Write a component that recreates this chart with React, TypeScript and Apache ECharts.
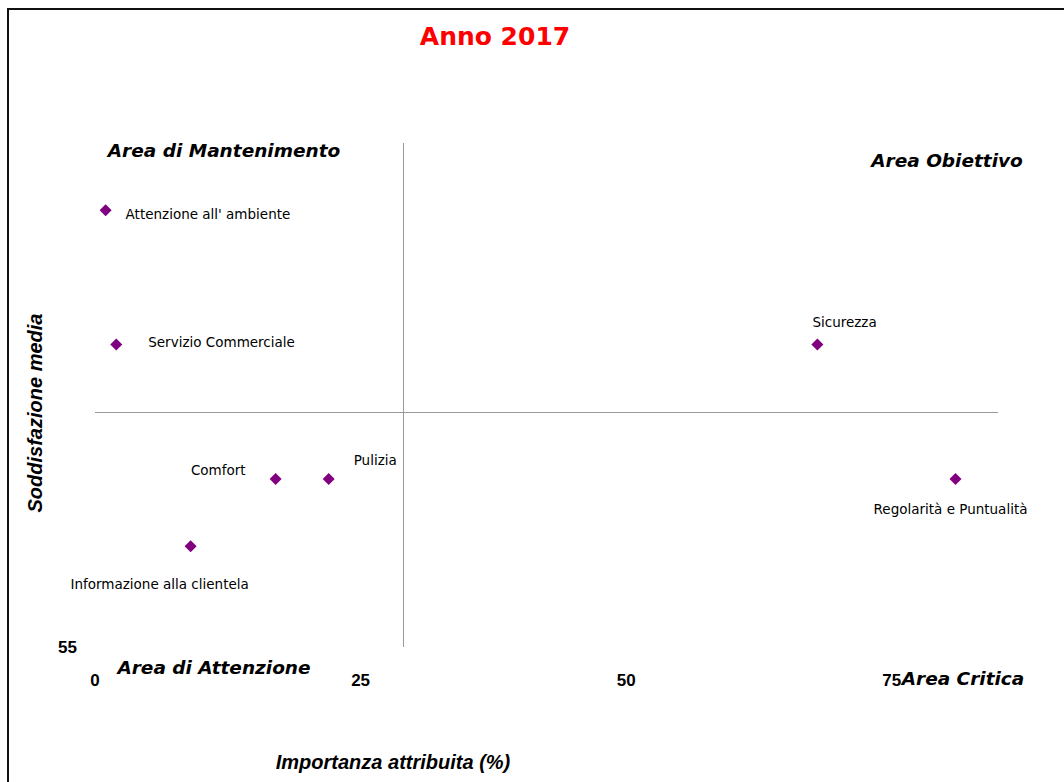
import React, { useEffect, useRef } from "react";
import * as echarts from "echarts";

const names = [
  "Attenzione all' ambiente",
  "Servizio Commerciale",
  "Sicurezza",
  "Comfort",
  "Pulizia",
  "Regolarità e Puntualità",
  "Informazione alla clientela",
];
const importanza = [1, 2, 68, 17, 22, 81, 9];
const soddisfazione = [81, 73, 73, 65, 65, 65, 61];
const xTicks = [0, 25, 50, 75];
const yTicks = [55];
const xSplit = 29;
const ySplit = 69;

const labelLayout: Record<string, { align: string; offset: number[] }> = {
  "Attenzione all' ambiente": { align: "left", offset: [20, 4] },
  "Servizio Commerciale": { align: "left", offset: [32, -3] },
  Sicurezza: { align: "left", offset: [-5, -23] },
  Comfort: { align: "right", offset: [-30, -9] },
  Pulizia: { align: "left", offset: [25, -19] },
  "Regolarità e Puntualità": { align: "center", offset: [-5, 30] },
  "Informazione alla clientela": { align: "center", offset: [-31, 38] },
};

export default function App() {
  const ref = useRef<HTMLDivElement>(null);
  useEffect(() => {
    if (!ref.current) return;
    const chart = echarts.init(ref.current, null, { renderer: "svg" });
    const labelFont = "'DejaVu Sans', Verdana, sans-serif";
    const areaStyle = {
      fontFamily: "'DejaVu Sans', Verdana, sans-serif",
      fontWeight: "bold",
      fontStyle: "italic",
      fontSize: 18.5,
      fill: "#000",
    };
    chart.setOption({
      animation: false,
      backgroundColor: "#fff",
      grid: { left: 95, right: 66, top: 143, bottom: 135 },
      xAxis: {
        type: "value",
        min: 0,
        max: 85,
        interval: 25,
        axisLine: { show: false },
        axisTick: { show: false },
        splitLine: { show: false },
        axisLabel: {
          margin: 25,
          fontFamily: "'Liberation Sans', Arial, sans-serif",
          fontWeight: "bold",
          fontSize: 17,
          color: "#000",
          showMaxLabel: false,
          formatter: (v: number) => (xTicks.includes(v) ? String(v) : ""),
        },
      },
      yAxis: {
        type: "value",
        min: 55,
        max: 85,
        interval: 5,
        axisLine: { show: false },
        axisTick: { show: false },
        splitLine: { show: false },
        axisLabel: {
          margin: 18,
          fontFamily: "'Liberation Sans', Arial, sans-serif",
          fontWeight: "bold",
          fontSize: 17,
          color: "#000",
          formatter: (v: number) => (yTicks.includes(v) ? String(v) : ""),
        },
      },
      series: [
        {
          type: "scatter",
          symbol: "diamond",
          symbolSize: 12,
          itemStyle: { color: "#800080", opacity: 1 },
          data: names.map((n, i) => ({
            value: [importanza[i], soddisfazione[i]],
            name: n,
            label: {
              show: true,
              position: "inside",
              align: labelLayout[n].align,
              verticalAlign: "middle",
              offset: labelLayout[n].offset,
              formatter: n,
              fontFamily: labelFont,
              fontSize: 13.5,
              color: "#000",
              opacity: 1,
            },
          })),
          markLine: {
            silent: true,
            symbol: "none",
            label: { show: false },
            lineStyle: { color: "#999", width: 1, type: "solid", opacity: 1 },
            data: [{ xAxis: xSplit }, { yAxis: ySplit }],
          },
        },
      ],
      graphic: [
        {
          type: "rect",
          shape: { x: 8, y: 9, width: 1100, height: 800 },
          style: { fill: "none", stroke: "#111", lineWidth: 2 },
          silent: true,
        },
        {
          type: "text",
          x: 495,
          y: 36,
          style: {
            text: "Anno 2017",
            fontFamily: "'DejaVu Sans', Verdana, sans-serif",
            fontWeight: "bold",
            fontSize: 25,
            fill: "#ff0000",
            align: "center",
            verticalAlign: "middle",
          },
        },
        {
          type: "text",
          x: 224,
          y: 150,
          style: { ...areaStyle, text: "Area di Mantenimento", align: "center", verticalAlign: "middle" },
        },
        {
          type: "text",
          x: 947,
          y: 160,
          style: { ...areaStyle, text: "Area Obiettivo", align: "center", verticalAlign: "middle" },
        },
        {
          type: "text",
          x: 214,
          y: 667,
          style: { ...areaStyle, text: "Area di Attenzione", align: "center", verticalAlign: "middle" },
        },
        {
          type: "text",
          x: 963,
          y: 678,
          style: { ...areaStyle, text: "Area Critica", align: "center", verticalAlign: "middle" },
        },
        {
          type: "text",
          x: 393,
          y: 762,
          style: {
            text: "Importanza attribuita (%)",
            fontFamily: "'Liberation Sans', Arial, sans-serif",
            fontWeight: "bold",
            fontStyle: "italic",
            fontSize: 20,
            fill: "#000",
            align: "center",
            verticalAlign: "middle",
          },
        },
        {
          type: "text",
          x: 35,
          y: 413,
          rotation: Math.PI / 2,
          style: {
            text: "Soddisfazione media",
            fontFamily: "'Liberation Sans', Arial, sans-serif",
            fontWeight: "bold",
            fontStyle: "italic",
            fontSize: 20,
            fill: "#000",
            align: "center",
            verticalAlign: "middle",
          },
        },
      ],
    });
    return () => chart.dispose();
  }, []);
  return (
    <div
      ref={ref}
      style={{ position: "fixed", left: 0, top: 0, width: 1064, height: 782 }}
    />
  );
}
